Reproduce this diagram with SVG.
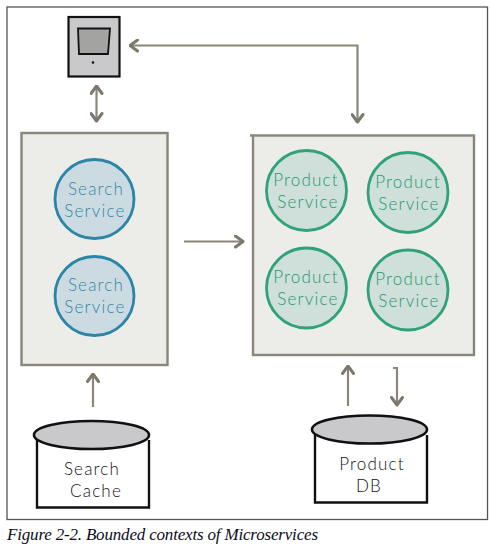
<svg xmlns="http://www.w3.org/2000/svg" width="490" height="550" viewBox="0 0 490 550">
<style>
.frame{fill:#fff;stroke:#555;stroke-width:1.3}
.box{fill:#ecede8;stroke:#8b867b;stroke-width:2.4}
.sc{fill:#ccdbe1;stroke:#2a85a8;stroke-width:2.8}
.pc{fill:#cfdfd9;stroke:#2fa27c;stroke-width:2.8}
.t{font-family:"Lato","Noto Sans",sans-serif;font-weight:300;font-size:17px;letter-spacing:1.2px;text-anchor:middle}
.st{fill:#2f86a8}
.pt{fill:#22996f}
.dt{fill:#111}
.conn{fill:none;stroke:#8b867b;stroke-width:2.2}
.head{fill:none;stroke:#7d786d;stroke-width:3;stroke-linecap:round;stroke-linejoin:round}
.top{fill:#c9c8ca;stroke:#111;stroke-width:2.6}
.body{fill:#fff;stroke:#111;stroke-width:2.4}
</style>
<defs>
<marker id="a" viewBox="0 0 12 14" refX="10.5" refY="7" markerWidth="12" markerHeight="14" markerUnits="userSpaceOnUse" orient="auto-start-reverse">
<path class="head" d="M3 1.5 L10.5 7 L3 12.5"/>
</marker>
</defs>
<rect class="frame" x="7" y="7" width="480.500" height="512.500"/>
<g id="connectors">
<path class="conn" d="M96.500 86V121" marker-start="url(#a)" marker-end="url(#a)"/>
<path class="conn" d="M130 45.500H357.500V122" marker-start="url(#a)" marker-end="url(#a)"/>
<path class="conn" d="M184 241.500H243" marker-end="url(#a)"/>
<path class="conn" d="M93 407V374" marker-end="url(#a)"/>
<path class="conn" d="M348 406V366" marker-end="url(#a)"/>
<path class="conn" d="M393 368H397V405" marker-end="url(#a)"/>
</g>
<g id="client">
<rect x="68.500" y="17" width="51" height="59.500" fill="#c9c8ca" stroke="#111" stroke-width="2.2"/>
<path d="M78 28.500H110L108 54H79Z" fill="#a3a3a1" stroke="#111" stroke-width="1.800"/>
<circle cx="93" cy="62.500" r="1.300" fill="#111"/>
</g>
<g id="search-context">
<rect class="box" x="21.500" y="133" width="146" height="232"/>
</g>
<g id="search-service-1">
<circle class="sc" cx="94.500" cy="199" r="39.500"/>
<text class="t st" x="96" y="195">Search</text>
<text class="t st" x="95" y="217">Service</text>
</g>
<g id="search-service-2">
<circle class="sc" cx="94.500" cy="296" r="39.500"/>
<text class="t st" x="96" y="291">Search</text>
<text class="t st" x="95" y="313">Service</text>
</g>
<g id="product-context">
<rect class="box" x="253" y="135.500" width="221" height="219.500"/>
<path d="M250 135.500H254" fill="none" stroke="#8b867b" stroke-width="2.400"/>
</g>
<g id="product-service-1">
<circle class="pc" cx="306.500" cy="190.500" r="40"/>
<text class="t pt" x="306" y="186">Product</text>
<text class="t pt" x="308" y="208">Service</text>
</g>
<g id="product-service-2">
<circle class="pc" cx="408" cy="192.500" r="40"/>
<text class="t pt" x="408" y="188">Product</text>
<text class="t pt" x="409" y="210">Service</text>
</g>
<g id="product-service-3">
<circle class="pc" cx="306.500" cy="288" r="40"/>
<text class="t pt" x="306" y="283">Product</text>
<text class="t pt" x="308" y="305">Service</text>
</g>
<g id="product-service-4">
<circle class="pc" cx="408" cy="290" r="40"/>
<text class="t pt" x="408" y="285">Product</text>
<text class="t pt" x="409" y="307">Service</text>
</g>
<g id="search-cache">
<path class="body" d="M37 440V507.500H149V440"/>
<ellipse class="top" cx="91.500" cy="435" rx="57.500" ry="14"/>
<text class="t dt" x="92" y="475">Search</text>
<text class="t dt" x="96" y="497">Cache</text>
</g>
<g id="product-db">
<path class="body" d="M315 435V502.500H427V435"/>
<ellipse class="top" cx="369.500" cy="429.500" rx="57.500" ry="14"/>
<text class="t dt" x="372" y="470">Product</text>
<text class="t dt" x="369" y="492">DB</text>
</g>
<text x="7" y="540" font-family="'Liberation Serif',serif" font-style="italic" font-size="17" fill="#0c0c20" textLength="311">Figure 2-2. Bounded contexts of Microservices</text>
</svg>
